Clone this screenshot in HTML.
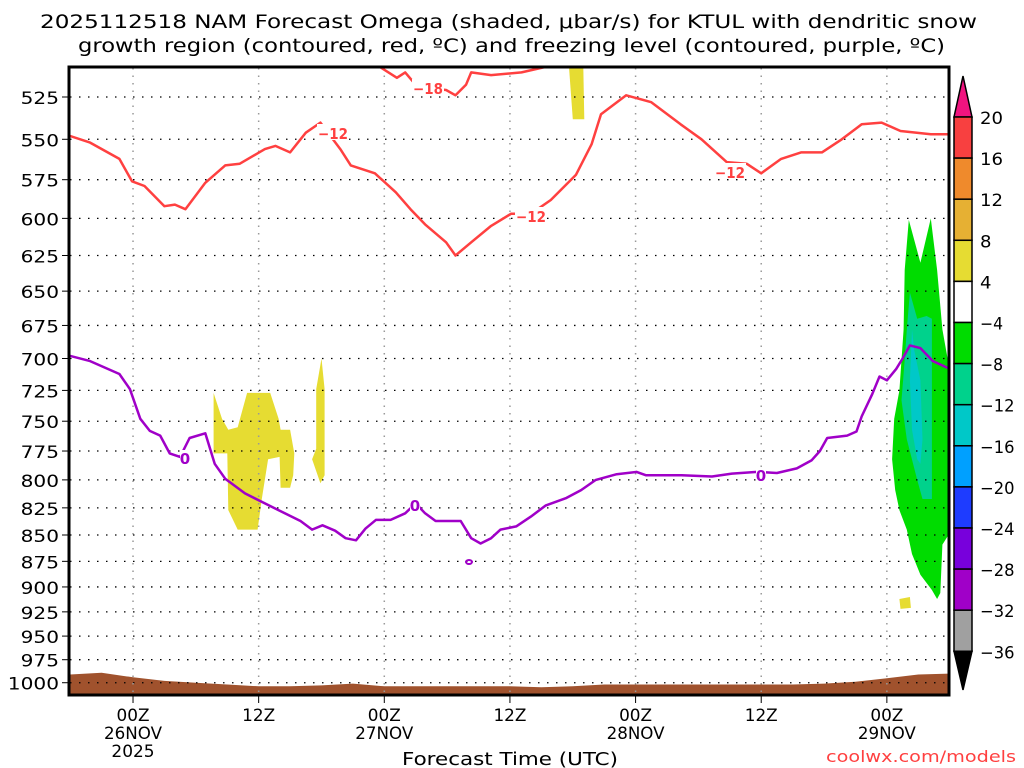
<!DOCTYPE html>
<html><head><meta charset="utf-8"><style>
html,body{margin:0;padding:0;background:#fff;}
svg{display:block;font-family:"DejaVu Sans","Liberation Sans",sans-serif;}
</style></head><body>
<svg id="chart" width="1024" height="768" viewBox="0 0 1024 768" xmlns="http://www.w3.org/2000/svg">
<defs><clipPath id="plotclip"><rect x="70" y="67" width="879" height="628"/></clipPath></defs>
<g font-size="19" fill="#000">
<text x="40" y="28" textLength="937" lengthAdjust="spacingAndGlyphs">2025112518 NAM Forecast Omega (shaded, μbar/s) for KTUL with dendritic snow</text>
<text x="78" y="52" textLength="867" lengthAdjust="spacingAndGlyphs">growth region (contoured, red, ºC) and freezing level (contoured, purple, ºC)</text>
</g>
<g id="shading" clip-path="url(#plotclip)"></g>
<g id="terrain" clip-path="url(#plotclip)"></g>
<g id="grid"></g>
<g id="lines" clip-path="url(#plotclip)"></g>
<g id="yaxis" font-size="17"></g>
<g id="xaxis" font-size="17"></g>
<rect x="69" y="67" width="880" height="628" fill="none" stroke="#000" stroke-width="3"/>
<text x="402" y="765" font-size="18" textLength="216" lengthAdjust="spacingAndGlyphs">Forecast Time (UTC)</text>
<text x="826" y="762" font-size="16" fill="#ff4040" textLength="190" lengthAdjust="spacingAndGlyphs">coolwx.com/models</text>
<g id="cbar" font-size="17"></g>
</svg>
<script>
const pTicks=[525,550,575,600,625,650,675,700,725,750,775,800,825,850,875,900,925,950,975,1000];
const xTickHours=[6,18,30,42,54,66,78];
const xTickL1=["00Z","12Z","00Z","12Z","00Z","12Z","00Z"];
const xTickL2=["26NOV","","27NOV","","28NOV","","29NOV"];
const xTickL3=["2025","","","","","",""];
const redHours=[0,1.9,4.7,5.9,7.1,9.0,10.0,11.0,12.9,14.8,16.2,18.6,19.6,21.0,22.5,23.9,25.8,26.8,29.1,31.1,32.5,33.9,35.9,36.8,38.3,40.2,42.1,44.0,45.9,48.3,49.8,50.7,53.1,55.5,58.3,60.3,62.7,64.6,66.0,67.9,69.8,71.8,73.7,75.6,77.5,79.3,82.2,84];
const redPres=[548,552,562,576,579,592,591,594,577,566,565,556,554,558,546,540,556,566,571,583,594,604,616,625,616,605,597,597,588,572,553,535,524,528,541,550,564,565,571,562,558,558,550,541,540,545,547,547];
const red18Hours=[29.6,31.2,32.0,33.0,34.4,35.9,36.8,37.8,38.3,40.2,43.1,45.3];
const red18Pres=[508,514,511,518,520,521,524,518,511,512.5,511,508];
const purHours=[0,1.9,4.7,5.7,6.7,7.6,8.6,9.5,10.5,11.4,12.9,13.8,14.8,16.7,18.6,20.5,22.0,23.1,24.1,25.3,26.3,27.3,28.2,29.2,30.6,32.0,33.0,33.9,34.9,37.3,38.3,39.2,40.2,41.1,42.6,44.0,45.4,47.4,48.8,50.2,52.2,54.1,55.0,58.4,61.3,63.2,65.6,67.5,69.4,70.8,71.6,72.3,74.2,75.1,75.6,76.6,77.3,78.0,78.9,79.5,80.2,81.2,82.4,84];
const purPres=[698,702,712,724,748,758,762,777,780,764,760,786,799,812,821,830,837,845,841,846,853,855,844,836,836,830,821,830,837,837,853,858,853,845,842,833,823,816,809,800,795,793,796,796,797,794.5,793,794,790,783,775,764,762,758.5,746,728,714,717,708,700,690,692,702,708];
const terrHours=[0,3,6,9,12,15,18,21,24,27,30,33,36,39,42,45,48,51,54,57,60,63,66,69,72,75,78,81,84];
const terrPres=[991,989,994,998,1000,1002,1004,1004,1003,1001,1004,1004,1004,1004,1004,1005,1004,1002,1002,1002,1002,1002,1002,1002,1001,999,995,991,990];
const yellow1=[[13.7,727],[14.5,748],[15.1,757],[16.0,755],[16.9,727],[19.1,727],[19.9,748],[20.1,757],[21.0,757],[21.4,777],[21.3,796],[21.0,807],[20.1,807],[20.0,780],[18.9,782],[18.3,817],[17.9,845],[16.0,845],[15.1,827],[15.0,777],[13.7,777]];
const yellow2=[[24.0,700],[24.3,724],[24.3,796],[23.9,803],[23.1,782],[23.5,773],[23.5,724]];
const yellow3=[[47.6,505],[49.0,505],[49.1,538],[48.0,538]];
const yellow4=[[79.2,912],[80.2,910],[80.3,921],[79.3,922]];
const green1=[[80.1,601],[79.7,635],[79.6,678],[79.2,725],[78.7,748],[78.5,782],[78.8,809],[79.2,827],[79.9,845],[80.4,868],[81.2,888],[82.3,903],[82.8,912],[83.1,906],[83.3,859],[84.2,845],[84.2,709],[83.8,700],[83.3,678],[82.8,635],[82.2,600],[81.2,630]];
const teal1=[[80.2,651],[80.9,670],[81.8,668],[82.3,670],[82.3,817],[81.4,817],[80.9,800],[79.9,765],[79.4,733],[79.7,701],[79.9,678]];
const cyan1=[[80.4,678],[80.6,693],[81.2,717],[81.4,765],[81.2,786],[80.9,782],[80.4,757],[80.2,717]];
const cbLevels=[20,16,12,8,4,-4,-8,-12,-16,-20,-24,-28,-32,-36];
const cbColors=["#f84040","#ef8a2c","#e6b033","#e6dc32","#ffffff","#00dc00","#00d28c","#00c8c8","#00a0ff","#1e3cff","#7800dc","#a000c8","#a0a0a0"];

const NS="http://www.w3.org/2000/svg";
const X=h=>70.2+h*10.47;
const Y=p=>97+909*Math.log(p/525);
function mk(tag,attrs,parent,txt){const e=document.createElementNS(NS,tag);for(const k in attrs)e.setAttribute(k,attrs[k]);if(txt!==undefined)e.textContent=txt;parent.appendChild(e);return e;}
const G=id=>document.getElementById(id);
function ctext(parent,cx,y,txt,cw){const w=txt.length*cw;return mk('text',{x:cx-w/2,y:y,textLength:w,lengthAdjust:'spacingAndGlyphs'},parent,txt);}

function poly(arr,color,name){const e=mk('polygon',{points:arr.map(a=>X(a[0]).toFixed(1)+','+Y(a[1]).toFixed(1)).join(' '),fill:color},G('shading'));

}
poly(yellow1,'#e6dc32','shade-yellow-1');poly(yellow2,'#e6dc32','shade-yellow-2');poly(yellow3,'#e6dc32','shade-yellow-3');poly(yellow4,'#e6dc32','shade-yellow-4');
poly(green1,'#00dc00','shade-green');poly(teal1,'#00d28c','shade-teal');poly(cyan1,'#00c8c8','shade-cyan');

{let pts=terrHours.map((h,i)=>X(h).toFixed(1)+','+Y(terrPres[i]).toFixed(1));pts.push(X(84)+',700',X(0)+',700');
const t=mk('polygon',{points:pts.join(' '),fill:'#a0522d'},G('terrain'));

}

pTicks.forEach(p=>{const y=Y(p);
const l=mk('line',{x1:70,x2:949,y1:y,y2:y,stroke:'#000','stroke-width':1.3,'stroke-dasharray':'1.5 7.5'},G('grid'));


mk('line',{x1:62,x2:69,y1:y,y2:y,stroke:'#000','stroke-width':1},G('yaxis'));
const s=String(p),w=s.length*12.8;
const t=mk('text',{x:59-w,y:y+7,textLength:w,lengthAdjust:'spacingAndGlyphs'},G('yaxis'),s);

});
xTickHours.forEach((h,i)=>{const x=X(h);
const l=mk('line',{x1:x,x2:x,y1:68,y2:695,stroke:'#999','stroke-width':1.5,'stroke-dasharray':'1.5 6'},G('grid'));


mk('line',{x1:x,x2:x,y1:695,y2:703,stroke:'#000','stroke-width':1},G('xaxis'));
const t=ctext(G('xaxis'),x,721,xTickL1[i],11);


if(xTickL2[i])ctext(G('xaxis'),x,739,xTickL2[i],11.6);
if(xTickL3[i])ctext(G('xaxis'),x,757,xTickL3[i],10.8);});

function line(hs,ps,color,name){const d=hs.map((h,i)=>(i?'L':'M')+X(h).toFixed(1)+' '+Y(ps[i]).toFixed(1)).join(' ');
const e=mk('path',{d:d,fill:'none',stroke:color,'stroke-width':2.5,'stroke-linejoin':'round'},G('lines'));

}
line(redHours,redPres,'#ff4040','dgz-minus12-line');
line(red18Hours,red18Pres,'#ff4040','dgz-minus18-line');
line(purHours,purPres,'#a000c8','freezing-level-line');
function lab(x,y,txt,color,name){mk('rect',{x:x-16,y:y-9,width:32,height:16,fill:'#fff'},G('lines'));
const t=mk('text',{x:x-15,y:y+6,fill:color,'font-size':15,'font-weight':'bold',textLength:30,lengthAdjust:'spacingAndGlyphs'},G('lines'),txt);

}
lab(333,133,'−12','#ff4040','label-minus12-a');lab(531,216,'−12','#ff4040','label-minus12-b');lab(730,172,'−12','#ff4040','label-minus12-c');lab(428,88,'−18','#ff4040','label-minus18');
function lab0(x,y,name){mk('rect',{x:x-5,y:y-8,width:10,height:16,fill:'#fff'},G('lines'));
const t=mk('text',{x:x,y:y+6,fill:'#a000c8','font-size':15,'font-weight':'bold','text-anchor':'middle'},G('lines'),'0');

}
lab0(185,458,'label-zero-a');lab0(415,505,'label-zero-b');lab0(761,475,'label-zero-c');
mk('ellipse',{cx:469,cy:562,rx:3,ry:2,fill:'none',stroke:'#a000c8','stroke-width':2},G('lines'));

{const cb=G('cbar');const top=117,step=41.1,x0=954,w=18;
mk('polygon',{points:`${x0},${top} ${x0+w},${top} ${x0+w/2},76`,fill:'#f0147f',stroke:'#000','stroke-width':1.5},cb);
cbColors.forEach((c,i)=>{const r=mk('rect',{x:x0,y:top+i*step,width:w,height:step,fill:c,stroke:'#000','stroke-width':1.5},cb);

});
const bot=top+cbColors.length*step;
mk('polygon',{points:`${x0},${bot} ${x0+w},${bot} ${x0+w/2},690`,fill:'#000',stroke:'#000','stroke-width':1.5},cb);
cbLevels.forEach((v,i)=>{const s=v<0?'−'+(-v):String(v);const t=mk('text',{x:980,y:top+i*step+7,textLength:s.length*11.5,lengthAdjust:'spacingAndGlyphs'},cb,s);

});}
</script>
</body></html>
